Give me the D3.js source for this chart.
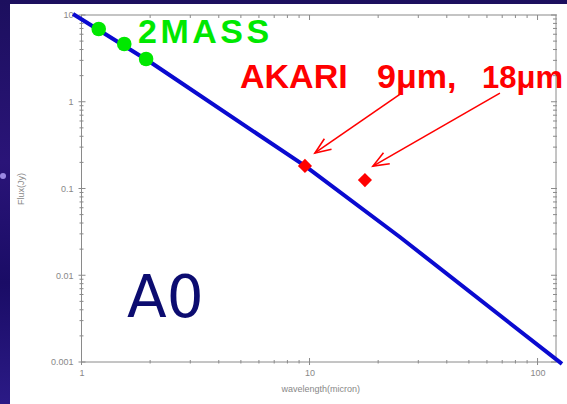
<!DOCTYPE html>
<html><head><meta charset="utf-8">
<script src="https://cdn.jsdelivr.net/npm/d3@7"></script>
<style>html,body{margin:0;padding:0;background:#fff;}svg{display:block;}</style>
</head><body>
<svg id="c" width="567" height="404"></svg>
<script>
// ---- data ----
const modelWavelength = [0.918, 2.0, 9.55, 24.9, 128];
const modelFlux       = [10.27, 2.87, 0.182, 0.0276, 0.00095];
const twomassWavelength = [1.19, 1.54, 1.92];
const twomassFlux       = [6.9, 4.63, 3.11];
const akariWavelength = [9.55, 17.5];
const akariFlux       = [0.182, 0.125];
const xTickValues = [1, 10, 100];
const xTickLabels = ["1", "10", "100"];
const yTickValues = [0.001, 0.01, 0.1, 1, 10];
const yTickLabels = ["0.001", "0.01", "0.1", "1", "10"];

const svg = d3.select("#c");
const W = 567, H = 404;
const L = 81.5, R = 556, T = 15, B = 362;

// background (starry dark blue) and white panel
const defs = svg.append("defs");
const g1 = defs.append("linearGradient").attr("id","bg").attr("x1",0).attr("y1",0).attr("x2",0).attr("y2",1);
g1.append("stop").attr("offset","0%").attr("stop-color","#1c0f5e");
g1.append("stop").attr("offset","40%").attr("stop-color","#2a1478");
g1.append("stop").attr("offset","70%").attr("stop-color","#1a0c66");
g1.append("stop").attr("offset","100%").attr("stop-color","#2b1a86");
svg.append("rect").attr("width",W).attr("height",H).attr("fill","url(#bg)");
svg.append("circle").attr("cx",3).attr("cy",176).attr("r",3).attr("fill","#b9a8ff").attr("opacity",0.8);
svg.append("rect").attr("x",10).attr("y",4).attr("width",W-10).attr("height",H-4).attr("fill","#ffffff");

const x = d3.scaleLog().domain([1, 120.5]).range([L, R]);
const y = d3.scaleLog().domain([0.001, 10]).range([B, T]);

const axisCol = "#8a8a8a";
// frame
svg.append("rect").attr("x",L).attr("y",T).attr("width",R-L).attr("height",B-T)
  .attr("fill","none").attr("stroke",axisCol).attr("stroke-width",1);

// ticks
const xMinor = x.ticks(30).filter(v => !xTickValues.includes(v));
const yMinor = y.ticks(40).filter(v => !yTickValues.includes(v));
const tk = svg.append("g").attr("stroke",axisCol).attr("stroke-width",1);
xMinor.forEach(v => {
  tk.append("line").attr("x1",x(v)).attr("x2",x(v)).attr("y1",B-2).attr("y2",B+1.5);
  tk.append("line").attr("x1",x(v)).attr("x2",x(v)).attr("y1",T).attr("y2",T+3);
});
xTickValues.forEach(v => {
  tk.append("line").attr("x1",x(v)).attr("x2",x(v)).attr("y1",B-4).attr("y2",B+3);
  tk.append("line").attr("x1",x(v)).attr("x2",x(v)).attr("y1",T).attr("y2",T+5);
});
yMinor.forEach(v => {
  tk.append("line").attr("x1",L-2).attr("x2",L+2).attr("y1",y(v)).attr("y2",y(v));
  tk.append("line").attr("x1",R-3).attr("x2",R+1).attr("y1",y(v)).attr("y2",y(v));
});
yTickValues.forEach(v => {
  tk.append("line").attr("x1",L-3).attr("x2",L+4).attr("y1",y(v)).attr("y2",y(v));
  tk.append("line").attr("x1",R-5).attr("x2",R+1).attr("y1",y(v)).attr("y2",y(v));
});

// tick labels via axes (ticks hidden)
const xa = svg.append("g").attr("transform",`translate(0,${B})`)
  .call(d3.axisBottom(x).tickValues(xTickValues).tickFormat((d,i)=>xTickLabels[i]).tickSize(0).tickPadding(8));
const ya = svg.append("g").attr("transform",`translate(${L},0)`)
  .call(d3.axisLeft(y).tickValues(yTickValues).tickFormat((d,i)=>yTickLabels[i]).tickSize(0).tickPadding(8));
[xa, ya].forEach(a => {
  a.select(".domain").remove();
  a.selectAll("text").attr("fill","#888").attr("font-family","Liberation Sans, Arial, sans-serif").attr("font-size",9);
});

svg.append("text").attr("x",(L+R)/2+2).attr("y",392).attr("text-anchor","middle")
  .attr("font-family","Liberation Sans, Arial, sans-serif").attr("font-size",9).attr("fill","#888")
  .text("wavelength(micron)");
svg.append("text").attr("transform","translate(24,189) rotate(-90)").attr("text-anchor","middle")
  .attr("font-family","Liberation Sans, Arial, sans-serif").attr("font-size",9).attr("fill","#888")
  .text("Flux(Jy)");

// model line
const line = d3.line().x(d => x(d[0])).y(d => y(d[1]));
svg.append("path").datum(modelWavelength.map((w,i)=>[w, modelFlux[i]]))
  .attr("d", line).attr("fill","none").attr("stroke","#0a0ad0").attr("stroke-width",4)
  .attr("stroke-linejoin","round");

// 2MASS points
svg.selectAll(".tm").data(twomassWavelength).enter().append("circle")
  .attr("cx", d => x(d)).attr("cy", (d,i) => y(twomassFlux[i])).attr("r",7.3).attr("fill","#00e800");

// AKARI points
svg.selectAll(".ak").data(akariWavelength).enter().append("path")
  .attr("transform",(d,i)=>`translate(${x(d)},${y(akariFlux[i])}) rotate(45)`)
  .attr("d", d3.symbol().type(d3.symbolSquare).size(100)).attr("fill","#ff0000");

// arrows from label to AKARI points
const arrowOff = [[10,-13],[8,-14]];
const arrowTail = [[87,-60],[127,-73]];
const ag = svg.append("g").attr("stroke","#ff0000").attr("stroke-width",1.6).attr("fill","none");
akariWavelength.forEach((w,i) => {
  const tx = x(w)+arrowOff[i][0], ty = y(akariFlux[i])+arrowOff[i][1];
  const sx = tx+arrowTail[i][0], sy = ty+arrowTail[i][1];
  ag.append("line").attr("x1",sx).attr("y1",sy).attr("x2",tx).attr("y2",ty);
  const ang = Math.atan2(sy-ty, sx-tx), hl = 17, spread = 0.38;
  ag.append("path").attr("d",
    `M${tx+hl*Math.cos(ang+spread)},${ty+hl*Math.sin(ang+spread)}L${tx},${ty}L${tx+hl*Math.cos(ang-spread)},${ty+hl*Math.sin(ang-spread)}`);
});

// labels
const font = "Liberation Sans, Arial, sans-serif";
svg.append("text").attr("x",138).attr("y",43).attr("font-family",font)
  .attr("font-weight","bold").attr("font-size",34).attr("letter-spacing",3.5).attr("fill","#00e800").text("2MASS");
svg.append("text").attr("x",240).attr("y",88).attr("font-family",font)
  .attr("font-weight","bold").attr("font-size",34).attr("fill","#ff0000").text("AKARI");
svg.append("text").attr("x",377).attr("y",88).attr("font-family",font)
  .attr("font-weight","bold").attr("font-size",34).attr("fill","#ff0000").text("9μm,");
svg.append("text").attr("x",482).attr("y",88).attr("font-family",font)
  .attr("font-weight","bold").attr("font-size",31).attr("fill","#ff0000").text("18μm");
svg.append("text").attr("x",127).attr("y",317).attr("font-family","DejaVu Sans, Verdana, sans-serif")
  .attr("font-size",58).attr("fill","#0c0c70").text("A0");
</script>
</body></html>
